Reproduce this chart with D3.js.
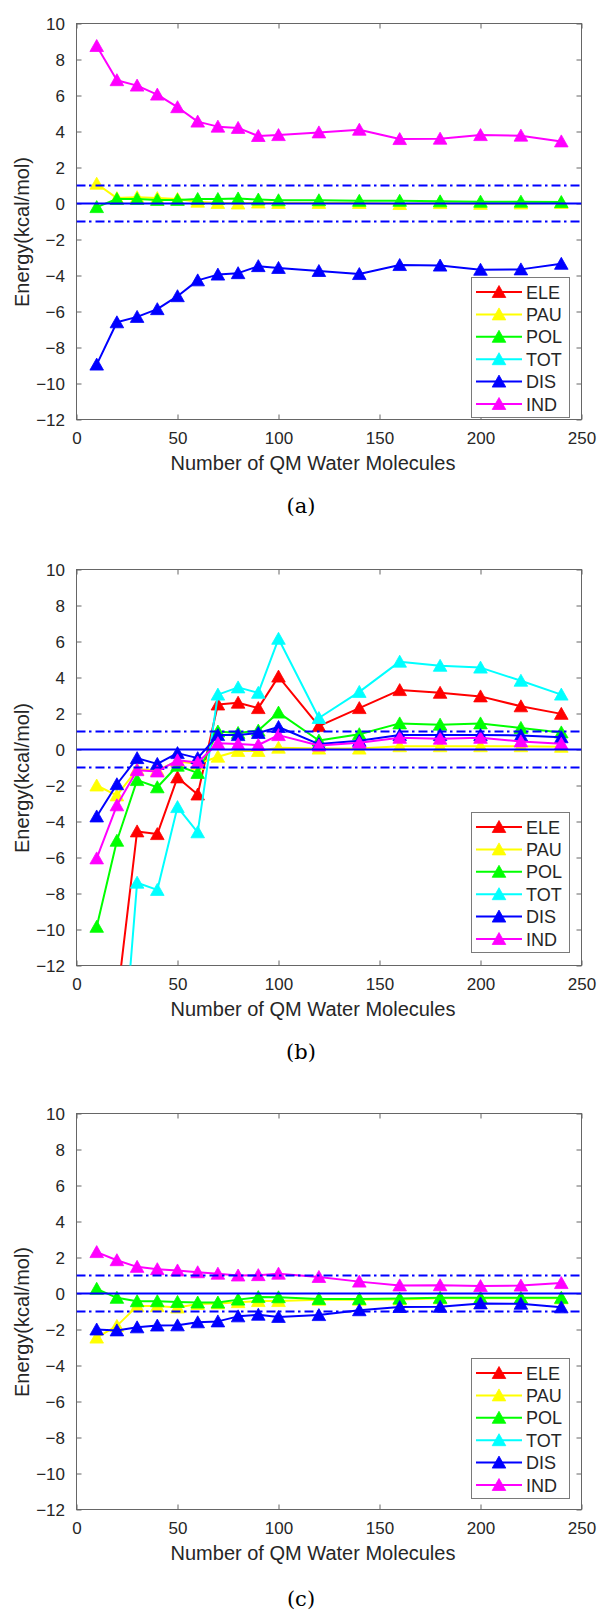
<!DOCTYPE html>
<html><head><meta charset="utf-8">
<script src="https://cdn.jsdelivr.net/npm/d3@7"></script>
<style>
html,body{margin:0;padding:0;background:#fff;}
svg{display:block;}
</style></head>
<body>
<svg id="chart" width="597" height="1616"></svg>
<script>
// ---------- data ----------
const xValues = [10,20,30,40,50,60,70,80,90,100,120,140,160,180,200,220,240];
const seriesNames = ["ELE","PAU","POL","TOT","DIS","IND"];
const xTicks = [0,50,100,150,200,250];
const yTicks = [-12,-10,-8,-6,-4,-2,0,2,4,6,8,10];
const panelLabels = ["(a)","(b)","(c)"];
const refLevels = [0, 1, -1];

// panel (a)
const eleA = [];
const pauA = [1.1,0.3,0.35,0.3,0.25,0.1,0.03,0.0,0.05,0.03,0.03,0.03,-0.03,0.02,-0.02,0.0,0.03];
const polA = [-0.2,0.25,0.25,0.2,0.2,0.25,0.25,0.28,0.22,0.18,0.18,0.15,0.15,0.12,0.1,0.1,0.08];
const totA = [];
const disA = [-8.95,-6.6,-6.3,-5.87,-5.15,-4.27,-3.95,-3.87,-3.48,-3.58,-3.75,-3.92,-3.42,-3.45,-3.68,-3.66,-3.35];
const indA = [8.75,6.85,6.55,6.05,5.35,4.55,4.27,4.2,3.75,3.8,3.95,4.1,3.58,3.6,3.8,3.77,3.45];

// panel (b)
const eleB = [-25,-14,-4.55,-4.7,-1.55,-2.5,2.5,2.6,2.3,4.05,1.3,2.3,3.3,3.15,2.95,2.4,1.98];
const pauB = [-2.0,-2.55,-1.1,-1.15,-0.65,-0.8,-0.4,-0.08,-0.08,0.1,0.05,0.05,0.18,0.18,0.18,0.18,0.15];
const polB = [-9.85,-5.07,-1.7,-2.1,-0.9,-1.3,1.0,0.92,1.05,2.05,0.5,0.85,1.45,1.38,1.45,1.2,0.95];
const totB = [-32,-21.4,-7.4,-7.8,-3.2,-4.6,3.05,3.45,3.15,6.15,1.75,3.2,4.88,4.65,4.55,3.82,3.05];
const disB = [-3.72,-1.93,-0.48,-0.8,-0.2,-0.48,0.8,0.8,0.92,1.25,0.3,0.48,0.8,0.8,0.8,0.78,0.68];
const indB = [-6.05,-3.1,-1.15,-1.22,-0.6,-0.72,0.35,0.3,0.25,0.8,0.22,0.38,0.65,0.6,0.65,0.45,0.32];

// panel (c)
const eleC = [];
const pauC = [-2.45,-1.8,-0.7,-0.7,-0.78,-0.58,-0.55,-0.48,-0.42,-0.42,-0.35,-0.35,-0.33,-0.27,-0.27,-0.27,-0.27];
const polC = [0.26,-0.24,-0.43,-0.43,-0.47,-0.5,-0.5,-0.34,-0.2,-0.21,-0.3,-0.3,-0.28,-0.24,-0.24,-0.24,-0.24];
const totC = [];
const disC = [-2.0,-2.05,-1.88,-1.78,-1.77,-1.6,-1.55,-1.27,-1.18,-1.3,-1.2,-0.93,-0.75,-0.74,-0.55,-0.57,-0.77];
const indC = [2.3,1.85,1.48,1.35,1.28,1.18,1.1,1.0,1.02,1.1,0.92,0.66,0.45,0.46,0.41,0.44,0.58];

// ---------- styles / layout ----------
const colors = {ELE:"#ff0000",PAU:"#ffff00",POL:"#00ff00",TOT:"#00ffff",DIS:"#0000ff",IND:"#ff00ff"};
const panels = [
  {top:23.5,  legendTop:277.5,  series:{ELE:eleA,PAU:pauA,POL:polA,TOT:totA,DIS:disA,IND:indA}, labelY:513},
  {top:569.5, legendTop:812.5,  series:{ELE:eleB,PAU:pauB,POL:polB,TOT:totB,DIS:disB,IND:indB}, labelY:1059},
  {top:1113.5,legendTop:1358.5, series:{ELE:eleC,PAU:pauC,POL:polC,TOT:totC,DIS:disC,IND:indC}, labelY:1606}
];
const left = 76.5, right = 581.5, plotH = 396;
const axisColor = "#666666", textColor = "#262626";
const sansFont = "'Liberation Sans', Arial, Helvetica, sans-serif";

const svg = d3.select("#chart");
const x = d3.scaleLinear().domain([0,250]).range([left,right]);
const tri = "M0,-6.5L6.8,5.5L-6.8,5.5Z";

panels.forEach((p, pi) => {
  const y = d3.scaleLinear().domain([-12,10]).range([p.top+plotH, p.top]);
  const g = svg.append("g");
  const clipId = "clip"+pi;
  svg.append("defs").append("clipPath").attr("id",clipId)
    .append("rect").attr("x",left).attr("y",p.top).attr("width",right-left).attr("height",plotH);

  const bottomAxis = d3.axisBottom(x).tickValues(xTicks).tickSize(-5).tickPadding(0).tickFormat(d3.format("d"));
  const topAxis = d3.axisTop(x).tickValues(xTicks).tickSize(-5).tickFormat("");
  const leftAxis = d3.axisLeft(y).tickValues(yTicks).tickSize(-5).tickPadding(11.5).tickFormat(d3.format("d"));
  const rightAxis = d3.axisRight(y).tickValues(yTicks).tickSize(-5).tickFormat("");

  const ax = [
    g.append("g").attr("transform",`translate(0,${p.top+plotH})`).call(bottomAxis),
    g.append("g").attr("transform",`translate(0,${p.top})`).call(topAxis),
    g.append("g").attr("transform",`translate(${left},0)`).call(leftAxis),
    g.append("g").attr("transform",`translate(${right},0)`).call(rightAxis)
  ];
  ax.forEach(a => {
    a.select(".domain").remove();
    a.selectAll(".tick line").attr("stroke",axisColor).attr("stroke-width",1);
    a.selectAll(".tick text").attr("fill",textColor).style("font-family",sansFont).style("font-size","17px");
  });
  ax[0].selectAll(".tick text").attr("y",24.5).attr("dy",null);
  ax[2].selectAll(".tick text").attr("dy","0.35em");
  g.append("rect").attr("x",left).attr("y",p.top).attr("width",right-left).attr("height",plotH)
    .attr("fill","none").attr("stroke",axisColor).attr("stroke-width",1);

  // series
  const data = g.append("g").attr("clip-path",`url(#${clipId})`);
  const line = d3.line().x(d=>x(d[0])).y(d=>y(d[1]));
  seriesNames.forEach(name => {
    const vals = p.series[name];
    if (!vals.length) return;
    const pts = vals.map((v,i)=>[xValues[i],v]);
    data.append("path").datum(pts).attr("d",line).attr("fill","none")
      .attr("stroke",colors[name]).attr("stroke-width",2).attr("stroke-linejoin","round");
    data.selectAll(null).data(pts).enter().append("path")
      .attr("d",tri).attr("transform",d=>`translate(${x(d[0])},${y(d[1])})`)
      .attr("fill",colors[name]).attr("stroke",colors[name]).attr("stroke-width",0.8);
  });

  // reference lines
  refLevels.forEach(v => {
    data.append("line").attr("x1",x(0)).attr("x2",x(250)).attr("y1",y(v)).attr("y2",y(v))
      .attr("stroke","#0000ff").attr("stroke-width",1.8)
      .attr("stroke-dasharray", v===0 ? null : "9,3.5,2.5,4");
  });

  // axis titles
  g.append("text").attr("x",313).attr("y",p.top+plotH+50).attr("text-anchor","middle")
    .attr("fill",textColor).style("font-family",sansFont).style("font-size","20px")
    .text("Number of QM Water Molecules");
  g.append("text").attr("transform",`translate(29,${p.top+208.5}) rotate(-90)`).attr("text-anchor","middle")
    .attr("fill",textColor).style("font-family",sansFont).style("font-size","20px")
    .text("Energy(kcal/mol)");

  // legend
  const lg = g.append("g");
  lg.append("rect").attr("x",471.5).attr("y",p.legendTop).attr("width",98).attr("height",140)
    .attr("fill","#fff").attr("stroke","#7a7a7a").attr("stroke-width",1);
  seriesNames.forEach((name,i) => {
    const cy = p.legendTop + 14.5 + i*22.4;
    lg.append("line").attr("x1",476).attr("x2",522).attr("y1",cy).attr("y2",cy)
      .attr("stroke",colors[name]).attr("stroke-width",2);
    lg.append("path").attr("d",tri).attr("transform",`translate(499,${cy})`)
      .attr("fill",colors[name]).attr("stroke",colors[name]).attr("stroke-width",0.8);
    lg.append("text").attr("x",526).attr("y",cy+6.5).attr("fill",textColor)
      .style("font-family",sansFont).style("font-size","18px").text(name);
  });

  // panel label
  g.append("text").attr("x",301).attr("y",p.labelY).attr("text-anchor","middle")
    .attr("fill","#000").style("font-family","'DejaVu Serif', 'Liberation Serif', serif").style("font-size","21px")
    .text(panelLabels[pi]);
});
</script>
</body></html>
